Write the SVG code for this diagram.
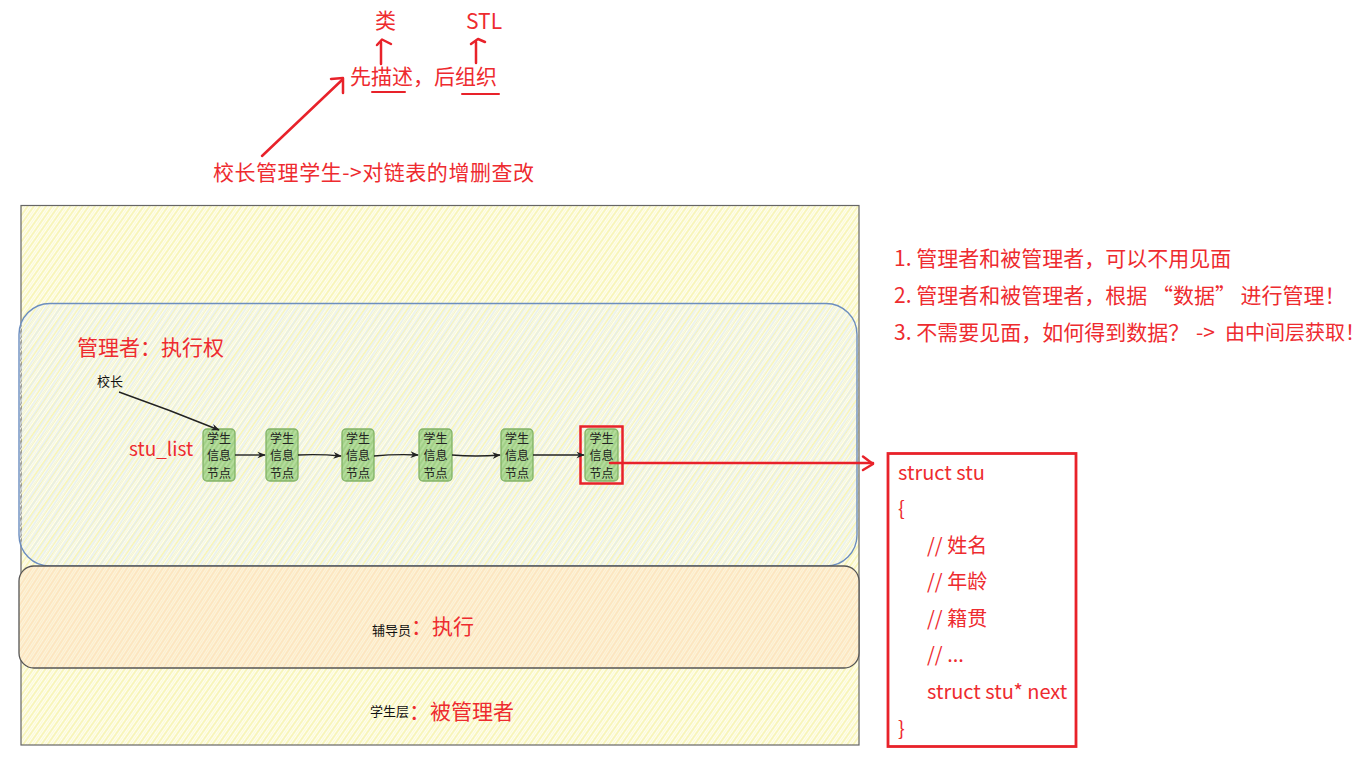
<svg xmlns="http://www.w3.org/2000/svg" width="1369" height="763" viewBox="0 0 1369 763">
<style>
.r{fill:#ee2b2f;font-family:"Noto Sans CJK SC","Liberation Sans",sans-serif;}
.k{fill:#111;font-family:"Noto Sans CJK SC","Liberation Sans",sans-serif;}
.f21{font-size:21px;}
.f13{font-size:13px;}
.code{font-size:20px;}
.nt{font-size:12px;text-anchor:middle;fill:#222;font-family:"Noto Sans CJK SC",sans-serif;}
.node{fill:url(#hGreen);stroke:#82b366;stroke-width:1.3;}
.red{fill:none;stroke:#e8222a;stroke-width:2.5;stroke-linecap:round;stroke-linejoin:round;}
.blk{fill:none;stroke:#222;stroke-width:1.4;}
</style>
<defs>
<pattern id="hYellow" width="5" height="5" patternUnits="userSpaceOnUse" patternTransform="rotate(35)">
<rect width="5" height="5" fill="#fefef0"/>
<line x1="1" y1="0" x2="1" y2="5" stroke="#f6f2a4" stroke-width="1.4"/>
<line x1="3.5" y1="0" x2="3.5" y2="5" stroke="#fbf8cf" stroke-width="0.8"/>
</pattern>
<pattern id="hBlue" width="6" height="6" patternUnits="userSpaceOnUse" patternTransform="rotate(33)">
<line x1="2" y1="0" x2="2" y2="6" stroke="#e2ecf5" stroke-width="1.3"/>
<line x1="4.5" y1="0" x2="4.5" y2="6" stroke="#f1f5f0" stroke-width="1"/>
</pattern>
<pattern id="hOrange" width="5" height="5" patternUnits="userSpaceOnUse" patternTransform="rotate(33)">
<rect width="5" height="5" fill="#fdf2dc"/>
<line x1="1" y1="0" x2="1" y2="5" stroke="#fcdcaa" stroke-width="1.1"/>
<line x1="3.5" y1="0" x2="3.5" y2="5" stroke="#fcedc4" stroke-width="0.9"/>
</pattern>
<pattern id="hGreen" width="4" height="4" patternUnits="userSpaceOnUse" patternTransform="rotate(33)">
<rect width="4" height="4" fill="#b4dc9c"/>
<line x1="1" y1="0" x2="1" y2="4" stroke="#94c878" stroke-width="1.2"/>
</pattern>
<marker id="ah" viewBox="0 0 10 10" refX="9" refY="5" markerWidth="6" markerHeight="6" orient="auto">
<path d="M0,1 L10,5 L0,9 L3,5 Z" fill="#222"/>
</marker>
</defs>

<g id="layer-outer">
<rect x="21" y="205.5" width="838" height="539.5" fill="url(#hYellow)" stroke="#666" stroke-width="1.2"/>
</g>
<g id="layer-manager">
<rect x="19" y="303.5" width="838" height="262.5" rx="31" fill="url(#hBlue)" stroke="#6c8ebf" stroke-width="1.4"/>
</g>
<g id="layer-counselor">
<rect x="19" y="566" width="840" height="102" rx="15" fill="url(#hOrange)" stroke="#555" stroke-width="1.3"/>
</g>

<g id="top-notes">
<text class="r f21" x="375" y="28">类</text>
<text class="r f21" x="466" y="29">STL</text>
<text class="r f21" x="350" y="84">先描述，后组织</text>
<text class="r f21" x="213" y="180" textLength="321" lengthAdjust="spacing">校长管理学生-&gt;对链表的增删查改</text>
</g>

<g id="right-notes">
<text class="r f21" x="894" y="266">1. 管理者和被管理者，可以不用见面</text>
<text class="r f21" x="894" y="303">2. 管理者和被管理者，根据 “数据” 进行管理！</text>
<text class="r f21" x="894" y="340">3. 不需要见面，如何得到数据？<tspan x="1196">-&gt;</tspan><tspan x="1225" style="font-size:20px">由中间层获取！</tspan></text>
</g>

<g id="label-manager">
<text class="r f21" x="77" y="355">管理者：执行权</text>
</g>
<g id="label-principal">
<text class="k f13" x="97" y="386">校长</text>
</g>
<g id="label-stulist">
<text class="r" x="129" y="456" style="font-size:19px">stu_list</text>
</g>
<g id="label-counselor">
<text class="k f13" x="372" y="635">辅导员</text>
<text class="r f21" x="411" y="634">：执行</text>
</g>
<g id="label-student">
<text class="k f13" x="370" y="716">学生层</text>
<text class="r f21" x="409" y="719">：被管理者</text>
</g>

<g id="node1"><rect class="node" x="203" y="429" width="32" height="52" rx="4"/><text class="nt" x="219" y="442.5">学生<tspan x="219" dy="17.5">信息</tspan><tspan x="219" dy="17.5">节点</tspan></text></g>
<g id="node2"><rect class="node" x="266" y="429" width="32" height="52" rx="4"/><text class="nt" x="282" y="442.5">学生<tspan x="282" dy="17.5">信息</tspan><tspan x="282" dy="17.5">节点</tspan></text></g>
<g id="node3"><rect class="node" x="342" y="429" width="32" height="52" rx="4"/><text class="nt" x="358" y="442.5">学生<tspan x="358" dy="17.5">信息</tspan><tspan x="358" dy="17.5">节点</tspan></text></g>
<g id="node4"><rect class="node" x="419" y="429" width="33" height="52" rx="4"/><text class="nt" x="435.5" y="442.5">学生<tspan x="435.5" dy="17.5">信息</tspan><tspan x="435.5" dy="17.5">节点</tspan></text></g>
<g id="node5"><rect class="node" x="501" y="429" width="32" height="52" rx="4"/><text class="nt" x="517" y="442.5">学生<tspan x="517" dy="17.5">信息</tspan><tspan x="517" dy="17.5">节点</tspan></text></g>
<g id="node6"><rect class="node" x="585" y="429" width="33" height="52" rx="4"/><text class="nt" x="601.5" y="442.5">学生<tspan x="601.5" dy="17.5">信息</tspan><tspan x="601.5" dy="17.5">节点</tspan></text></g>
<g id="node6-highlight"><rect x="580.5" y="426.5" width="42" height="57" fill="none" stroke="#e8222a" stroke-width="2.5"/></g>

<g id="struct-box">
<rect x="888" y="453.5" width="188" height="293" fill="#fff" stroke="#e8222a" stroke-width="2.8"/>
<text class="r code" x="898" y="480">struct stu</text>
<text class="r code" x="898" y="516">{</text>
<text class="r code" x="927" y="553">// 姓名</text>
<text class="r code" x="927" y="589">// 年龄</text>
<text class="r code" x="927" y="626">// 籍贯</text>
<text class="r code" x="927" y="662">// ...</text>
<text class="r code" x="927" y="699">struct stu* next</text>
<text class="r code" x="898" y="736">}</text>
</g>

<g id="connectors">
<path class="blk" d="M119,392 Q170,410 219,430" marker-end="url(#ah)"/>
<path class="blk" d="M235,455 L265,455" marker-end="url(#ah)"/>
<path class="blk" d="M298,455 Q320,454 341,456" marker-end="url(#ah)"/>
<path class="blk" d="M374,456 Q396,454 418,455" marker-end="url(#ah)"/>
<path class="blk" d="M452,455 Q476,457 500,455" marker-end="url(#ah)"/>
<path class="blk" d="M533,455 L584,455" marker-end="url(#ah)"/>
<path class="red" d="M610,463 L873,463"/>
<path class="red" d="M863,456.5 L873,464 L863,470"/>
<path class="red" d="M262,156 L342,80"/>
<path class="red" d="M331,79 L343,78 L343,93"/>
<path class="red" d="M381,64 L381,42"/>
<path class="red" d="M377,45 L382,39.5 L391,44"/>
<path class="red" d="M476,63 L476,42"/>
<path class="red" d="M471,44 L478,39 L485,42"/>
<path class="red" style="stroke-width:2" d="M372,92 L405,92"/>
<path class="red" style="stroke-width:2" d="M462,94 L499,94"/>
</g>
</svg>
